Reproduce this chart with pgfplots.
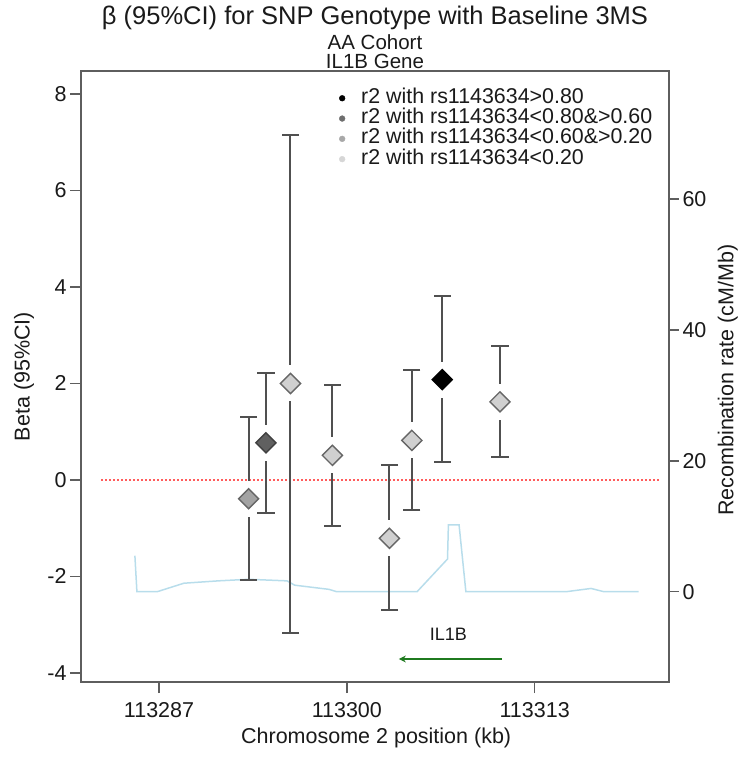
\documentclass[border=0pt]{standalone}
\usepackage{pgfplots}
\pgfplotsset{compat=1.18}
\usepackage{pgfplotstable}
\usepackage{fontspec}
\setmainfont{Liberation Sans}
\usetikzlibrary{arrows.meta}

\definecolor{axisgray}{HTML}{5E5E5E}
\definecolor{barcol}{HTML}{505050}
\definecolor{outl}{HTML}{666666}
\definecolor{cblack}{HTML}{000000}
\definecolor{cdark}{HTML}{606060}
\definecolor{cmed}{HTML}{A3A3A3}
\definecolor{clight}{HTML}{D0D0D0}
\definecolor{lgdark}{HTML}{6E6E6E}
\definecolor{lgmed}{HTML}{A8A8A8}
\definecolor{lglight}{HTML}{D6D6D6}
\definecolor{recblue}{HTML}{B8DDEB}
\definecolor{zred}{HTML}{FF5C5C}
\definecolor{arrgreen}{HTML}{1F7A1F}
\definecolor{textcol}{HTML}{1A1A1A}

\newcommand\fs[1]{\fontsize{#1}{#1}\selectfont}

% SNP effects: position (kb), beta, lower 95% CI, upper 95% CI
\pgfplotstableread{
x y lo hi
113306.6 2.08 0.37 3.81
}\tblack
\pgfplotstableread{
x y lo hi
113294.4 0.77 -0.69 2.22
}\tdark
\pgfplotstableread{
x y lo hi
113293.2 -0.39 -2.08 1.30
}\tmed
\pgfplotstableread{
x y lo hi
113296.1 2.00 -3.18 7.16
113299.0 0.51 -0.96 1.96
113302.95 -1.21 -2.69 0.30
113304.5 0.82 -0.62 2.28
113310.6 1.62 0.48 2.78
}\tlight
% recombination rate (cM/Mb)
\pgfplotstableread{
x r
113285.33 5.5
113285.47 0
113286.87 0
113288.72 1.3
113291.1 1.66
113293.2 1.9
113295.86 1.66
113296.39 1.0
113298.77 0.36
113299.3 0
113304.86 0
113306.97 5.0
113307.03 10.2
113307.77 10.2
113308.24 0
113315.17 0
113316.9 0.5
113317.8 0
113320.2 0
}\trec

\pgfplotsset{
  base/.style={scale only axis, width=588pt, height=611pt,
    xmin=113281.6, xmax=113322.3, clip=false,
    scaled x ticks=false, scaled y ticks=false,
    tick align=outside,
    axis line style={draw=axisgray, line width=1.5pt},
    every tick/.style={draw=axisgray, line width=1.5pt},
    tick label style={font=\fs{21.5}, text=textcol},
    label style={font=\fs{21.5}, text=textcol},
    /pgf/number format/assume math mode=true},
  ebars/.style={forget plot, only marks, mark=none,
    error bars/.cd, y dir=both, y explicit, error mark=none,
    error bar style={draw=barcol, line width=2pt}},
  caps/.style={forget plot, only marks, mark=-, mark size=8.6pt,
    mark options={draw=barcol, line width=2pt}},
  gaps/.style={forget plot, only marks, mark=|, mark size=18pt,
    mark options={draw=white, line width=4.5pt}},
  dia/.style 2 args={forget plot, only marks, mark=square*, mark size=7.1pt,
    mark options={rotate=45, draw=#1, fill=#2, line width=1.4pt}},
  lgdot/.style={legend image code/.code={\fill[#1] (0pt,0pt) circle (2.9pt); \path[draw=none, fill=none] (0pt,0pt) -- (19pt,0pt);}},
}
\newcommand\cibars[1]{%
  \addplot[ebars] table[x=x, y=y, y error plus expr=\thisrow{hi}-\thisrow{y},
    y error minus expr=\thisrow{y}-\thisrow{lo}] {#1};
  \addplot[caps] table[x=x, y=hi] {#1};
  \addplot[caps] table[x=x, y=lo] {#1};
  \addplot[gaps] table[x=x, y=y] {#1};
}

\begin{document}
\begin{tikzpicture}
% right axis: recombination rate
\begin{axis}[base,
  ymin=-13.8, ymax=79.6,
  axis x line=none, axis y line*=right,
  ytick={0,20,40,60}, yticklabels={0,20,40,60},
  major tick length=10pt,
  ylabel={Recombination rate (cM/Mb)},
  ylabel style={at={(axis description cs:1.100,0.494)}, anchor=center},
]
\addplot[recblue, line width=1.5pt] table[x=x, y=r] {\trec};
\end{axis}
% main axis: beta with 95% CI
\begin{axis}[base,
  ymin=-4.19, ymax=8.48,
  xtick={113287,113300,113313}, xticklabels={113287,113300,113313},
  ytick={-4,-2,0,2,4,6,8}, yticklabels={-4,-2,0,2,4,6,8},
  xtick pos=bottom, ytick pos=left,
  major tick length=11pt,
  xticklabel style={yshift=-6pt},
  xlabel={Chromosome 2 position (kb)},
  xlabel style={at={(axis description cs:0.502,-0.0917)}, anchor=center},
  ylabel={Beta (95\%CI)},
  ylabel style={at={(axis description cs:-0.097,0.5)}, anchor=center},
  legend style={at={(axis description cs:0.4389,0.9720)}, anchor=north west,
    draw=none, fill=none, inner sep=0pt, outer sep=0pt,
    font=\fs{21.4}, text=textcol, row sep=0pt, column sep=0pt,
    nodes={inner sep=0pt, text height=15pt, text depth=5.3pt}},
  legend cell align=left,
]
% zero reference line
\addplot[forget plot, zred, line width=1.6pt, dash pattern=on 1.8pt off 2.2pt]
  coordinates {(113283.0,0) (113321.6,0)};
% error bars with a gap round each estimate
\cibars{\tmed}
\cibars{\tdark}
\cibars{\tlight}
\cibars{\tblack}
\addplot[dia={outl}{cmed}] table[x=x, y=y] {\tmed};
\addplot[dia={black!75}{cdark}] table[x=x, y=y] {\tdark};
\addplot[dia={outl}{clight}] table[x=x, y=y] {\tlight};
\addplot[dia={black}{black}] table[x=x, y=y] {\tblack};
% gene arrow
\addplot[forget plot, arrgreen, line width=2.4pt, -{Stealth[length=7pt, width=7pt]}]
  coordinates {(113310.75,-3.713) (113303.6,-3.713)};
\node[font=\fs{18}, text=textcol, anchor=base] at (axis cs:113307.03,-3.32) {IL1B};
% titles
\node[font=\fs{25.5}, text=textcol, anchor=base] at (axis description cs:0.5,1.0753) {β (95\%CI) for SNP Genotype with Baseline 3MS};
\node[font=\fs{20.5}, text=textcol, anchor=base] at (axis description cs:0.5,1.0352) {AA Cohort};
\node[font=\fs{20.5}, text=textcol, anchor=base] at (axis description cs:0.5,1.0041) {IL1B Gene};
% legend
\addlegendimage{lgdot=cblack}
\addlegendentry{r2 with rs1143634>0.80}
\addlegendimage{lgdot=lgdark}
\addlegendentry{r2 with rs1143634<0.80\&>0.60}
\addlegendimage{lgdot=lgmed}
\addlegendentry{r2 with rs1143634<0.60\&>0.20}
\addlegendimage{lgdot=lglight}
\addlegendentry{r2 with rs1143634<0.20}
\end{axis}
\pgfresetboundingbox
\path[use as bounding box] (-81pt,-75pt) rectangle (660pt,682pt);
\end{tikzpicture}
\end{document}
